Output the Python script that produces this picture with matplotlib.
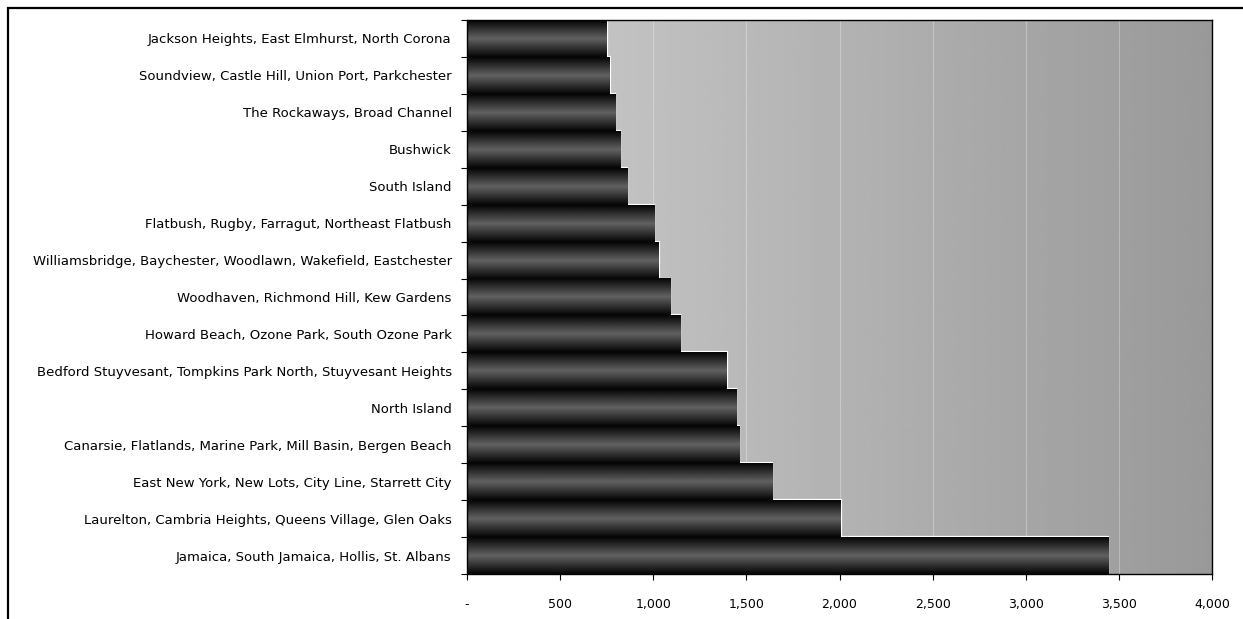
import numpy as np
import matplotlib.pyplot as plt
from matplotlib.patches import Rectangle
from matplotlib.ticker import FuncFormatter

# 社区名称（从上到下）
neighborhoods = [
    'Jackson Heights, East Elmhurst, North Corona',
    'Soundview, Castle Hill, Union Port, Parkchester',
    'The Rockaways, Broad Channel',
    'Bushwick',
    'South Island',
    'Flatbush, Rugby, Farragut, Northeast Flatbush',
    'Williamsbridge, Baychester, Woodlawn, Wakefield, Eastchester',
    'Woodhaven, Richmond Hill, Kew Gardens',
    'Howard Beach, Ozone Park, South Ozone Park',
    'Bedford Stuyvesant, Tompkins Park North, Stuyvesant Heights',
    'North Island',
    'Canarsie, Flatlands, Marine Park, Mill Basin, Bergen Beach',
    'East New York, New Lots, City Line, Starrett City',
    'Laurelton, Cambria Heights, Queens Village, Glen Oaks',
    'Jamaica, South Jamaica, Hollis, St. Albans',
]
values = [750, 767, 797, 823, 860, 1005, 1030, 1091, 1144, 1394,
          1445, 1462, 1640, 2008, 3442]
x_ticks = [0, 500, 1000, 1500, 2000, 2500, 3000, 3500, 4000]

W, H = 1243, 619
fig = plt.figure(figsize=(W / 100, H / 100), dpi=100)
ax = fig.add_axes([467 / W, 1 - 574 / H, (1212 - 467) / W, (574 - 20) / H])

xmax = 4000
n = len(values)

# 背景渐变：左浅右深
bg = np.linspace(0.80, 0.60, 256).reshape(1, -1)
ax.imshow(bg, cmap='gray', vmin=0, vmax=1, aspect='auto',
          extent=(0, xmax, n - 0.5, -0.5), zorder=0, interpolation='bilinear')

# 网格线（很淡）
for t in x_ticks[1:-1]:
    ax.axvline(t, color='white', lw=0.8, alpha=0.3, zorder=1)

# 柱子：上下边缘黑、中间灰
grad = np.concatenate([np.linspace(0.02, 0.38, 64), np.linspace(0.38, 0.02, 64)]).reshape(-1, 1)
bar_h = 1.0
ax.barh(range(n), values, height=bar_h, facecolor='none',
        edgecolor='white', lw=1.6, zorder=2)
for i, v in enumerate(values):
    ax.imshow(grad, cmap='gray', vmin=0, vmax=1, aspect='auto',
              extent=(0, v, i + bar_h / 2, i - bar_h / 2), zorder=3,
              interpolation='bilinear')
ax.set_xlim(0, xmax)
ax.set_ylim(n - 0.5, -0.5)

# 坐标轴
ax.set_yticks(range(n))
ax.set_yticklabels(neighborhoods, fontsize=9.55)
ax.set_yticks(np.arange(-0.5, n, 1), minor=True)
ax.tick_params(axis='y', which='major', length=0, pad=11)
ax.tick_params(axis='y', which='minor', length=4, width=0.8, direction='out')
ax.set_xticks(x_ticks)
ax.xaxis.set_major_formatter(FuncFormatter(lambda x, p: '-' if x == 0 else f'{int(x):,}'))
ax.tick_params(axis='x', length=4, width=0.8, labelsize=9, pad=13)
for s in ax.spines.values():
    s.set_color('black')
    s.set_linewidth(1.0)
    s.set_zorder(5)

# 外框
fig.patches.append(Rectangle((8 / W, -0.1), 1.2, 1 - 8 / H + 0.1,
                             transform=fig.transFigure, fill=False,
                             edgecolor='black', lw=1.6))

fig.savefig('out.png', dpi=100)
